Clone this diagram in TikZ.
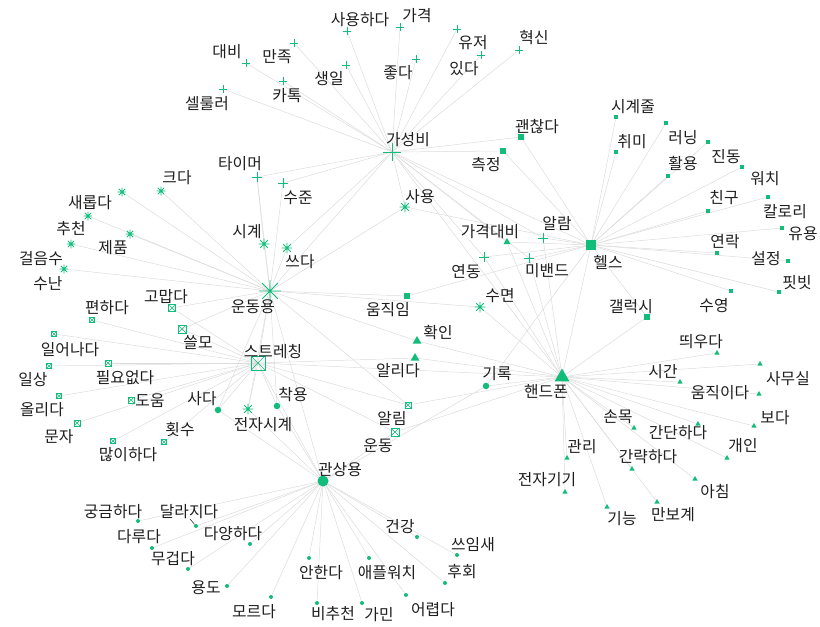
\documentclass[tikz,border=0pt]{standalone}
\usepackage{fontspec}
\setmainfont{Noto Sans CJK KR}
\usetikzlibrary{shapes.geometric}
\pgfdeclarelayer{background}
\pgfsetlayers{background,main}
\definecolor{mkc}{RGB}{18,188,122}
\definecolor{edgec}{RGB}{220,220,220}
\definecolor{txtc}{RGB}{30,30,30}
\tikzset{
  mkplus/.style={rectangle, inner sep=0pt, minimum size=#1},
  mkline/.style={draw=mkc, line width=1pt},
  mkast/.style={circle, inner sep=0pt, minimum size=#1,
    path picture={\draw[draw=mkc, line width=0.75pt]
      (path picture bounding box.north)--(path picture bounding box.south)
      (path picture bounding box.west)--(path picture bounding box.east)
      (path picture bounding box.north east)--(path picture bounding box.south west)
      (path picture bounding box.north west)--(path picture bounding box.south east);}},
  mkbox/.style={rectangle, inner sep=0pt, minimum size=#1, draw=mkc, line width=0.6pt,
    path picture={\draw[draw=mkc, line width=0.5pt]
      (path picture bounding box.north east)--(path picture bounding box.south west)
      (path picture bounding box.north west)--(path picture bounding box.south east);}},
  mksq/.style={rectangle, inner sep=0pt, minimum size=#1, fill=mkc},
  mktri/.style={regular polygon, regular polygon sides=3, inner sep=0pt, minimum size=#1, fill=mkc},
  mkcirc/.style={circle, inner sep=0pt, minimum size=#1, fill=mkc},
  lbl/.style={text=txtc, inner sep=0pt, font=\fontsize{15.8}{18}\selectfont},
  edge/.style={draw=edgec, line width=0.5pt},
}
\begin{document}
\begin{tikzpicture}[x=1pt, y=-1pt]
\useasboundingbox (0,0) rectangle (820,627);
% ---------- group G (plus)
\node[mkplus=18] (g0) at (392,152) {};
\node[mkplus=8] (g1) at (347,31) {};
\node[mkplus=8] (g2) at (400,27) {};
\node[mkplus=8] (g3) at (457,29) {};
\node[mkplus=8] (g4) at (519,50) {};
\node[mkplus=8] (g5) at (246,63) {};
\node[mkplus=8] (g6) at (294,43) {};
\node[mkplus=8] (g7) at (346,65) {};
\node[mkplus=8] (g8) at (416,59) {};
\node[mkplus=8] (g9) at (481,55) {};
\node[mkplus=8] (g10) at (283,81) {};
\node[mkplus=8] (g11) at (223,89) {};
\node[mkplus=10] (g12) at (257,177) {};
\node[mkplus=10] (g13) at (283,183) {};
\node[mkplus=10] (g14) at (543,238) {};
\node[mkplus=10] (g15) at (484,257) {};
\node[mkplus=10] (g16) at (529,258) {};
\foreach \n in {g0,g1,g2,g3,g4,g5,g6,g7,g8,g9,g10,g11,g12,g13,g14,g15,g16}
  \draw[mkline] (\n.north) -- (\n.south) (\n.west) -- (\n.east);
% ---------- group U (asterisk)
\node[mkast=22] (u0) at (270,291) {};
\node[mkast=9] (u1) at (161,191) {};
\node[mkast=9] (u2) at (122,192) {};
\node[mkast=9] (u3) at (88,216) {};
\node[mkast=9] (u4) at (130,234) {};
\node[mkast=9] (u5) at (71,244) {};
\node[mkast=9] (u6) at (64,269) {};
\node[mkast=11] (u7) at (264,244) {};
\node[mkast=11] (u8) at (287,248) {};
\node[mkast=11] (u9) at (405,207) {};
\node[mkast=11] (u10) at (480,307) {};
\node[mkast=11] (u11) at (248,409) {};
% ---------- group S (boxed x)
\node[mkbox=14] (s0) at (258,363) {};
\node[mkbox=5] (s1) at (92,320) {};
\node[mkbox=5] (s2) at (54,334) {};
\node[mkbox=5] (s3) at (49,366) {};
\node[mkbox=6] (s4) at (108,363) {};
\node[mkbox=5] (s5) at (59,396) {};
\node[mkbox=6] (s6) at (131,400) {};
\node[mkbox=6] (s7) at (77,423) {};
\node[mkbox=5] (s8) at (113,441) {};
\node[mkbox=5] (s9) at (164,442) {};
\node[mkbox=7] (s10) at (172,308) {};
\node[mkbox=8] (s11) at (182,329) {};
\node[mkbox=6] (s12) at (408,405) {};
\node[mkbox=8] (s13) at (395,432) {};
% ---------- group H (square)
\node[mksq=10] (h0) at (591,245) {};
\node[mksq=3.5] (h1) at (616,117) {};
\node[mksq=3.5] (h2) at (616,152) {};
\node[mksq=3.5] (h3) at (666,123) {};
\node[mksq=3.5] (h4) at (668,176) {};
\node[mksq=3.5] (h5) at (708,142) {};
\node[mksq=3.5] (h6) at (742,167) {};
\node[mksq=3.5] (h7) at (708,211) {};
\node[mksq=3.5] (h8) at (768,197) {};
\node[mksq=3.5] (h9) at (782,228) {};
\node[mksq=3.5] (h10) at (717,253) {};
\node[mksq=3.5] (h11) at (788,261) {};
\node[mksq=3.5] (h12) at (779,292) {};
\node[mksq=3.5] (h13) at (731,291) {};
\node[mksq=6.5] (h14) at (647,317) {};
\node[mksq=6] (h15) at (521,137) {};
\node[mksq=6] (h16) at (503,151) {};
\node[mksq=6] (h17) at (407,296) {};
% ---------- group P (triangle)
\node[mktri=17] (p0) at (562,377) {};
\node[mktri=6] (p1) at (717,353) {};
\node[mktri=6] (p2) at (760,364) {};
\node[mktri=6] (p3) at (680,382) {};
\node[mktri=6] (p4) at (759,394) {};
\node[mktri=6] (p5) at (754,426) {};
\node[mktri=6] (p6) at (698,424) {};
\node[mktri=6] (p7) at (634,428) {};
\node[mktri=6] (p8) at (727,458) {};
\node[mktri=6] (p9) at (567,458) {};
\node[mktri=6] (p10) at (632,469) {};
\node[mktri=6] (p11) at (695,479) {};
\node[mktri=6] (p12) at (565,492) {};
\node[mktri=6] (p13) at (607,507) {};
\node[mktri=6] (p14) at (657,502) {};
\node[mktri=8] (p15) at (507,242) {};
\node[mktri=10] (p16) at (417,341) {};
\node[mktri=10] (p17) at (415,358) {};
% ---------- group K (circle)
\node[mkcirc=11] (k0) at (323,481) {};
\node[mkcirc=4] (k1) at (138,521) {};
\node[mkcirc=4] (k2) at (196,526) {};
\node[mkcirc=4] (k3) at (250,544) {};
\node[mkcirc=4] (k4) at (152,548) {};
\node[mkcirc=4] (k5) at (188,569) {};
\node[mkcirc=4] (k6) at (227,586) {};
\node[mkcirc=4] (k7) at (271,597) {};
\node[mkcirc=4] (k8) at (309,558) {};
\node[mkcirc=4] (k9) at (317,603) {};
\node[mkcirc=4] (k10) at (369,558) {};
\node[mkcirc=4] (k11) at (362,603) {};
\node[mkcirc=4] (k12) at (406,595) {};
\node[mkcirc=4] (k13) at (417,537) {};
\node[mkcirc=4] (k14) at (457,555) {};
\node[mkcirc=4] (k15) at (445,583) {};
\node[mkcirc=6.5] (k16) at (218,410) {};
\node[mkcirc=6.5] (k17) at (277,406) {};
\node[mkcirc=6.5] (k18) at (486,386) {};
% ---------- labels
\node[lbl] (lg0) at (408,140) {가성비};
\node[lbl] (lg1) at (360,20) {사용하다};
\node[lbl] (lg2) at (417,16) {가격};
\node[lbl] (lg3) at (473,43) {유저};
\node[lbl] (lg4) at (534,38) {혁신};
\node[lbl] (lg5) at (227,52) {대비};
\node[lbl] (lg6) at (277,57) {만족};
\node[lbl] (lg7) at (329,79) {생일};
\node[lbl] (lg8) at (398,73) {좋다};
\node[lbl] (lg9) at (464,69) {있다};
\node[lbl] (lg10) at (287,96) {카톡};
\node[lbl] (lg11) at (207,104) {셀룰러};
\node[lbl] (lg12) at (240,164) {타이머};
\node[lbl] (lg13) at (298,198) {수준};
\node[lbl] (lg14) at (557,223) {알람};
\node[lbl] (lg15) at (466,272) {연동};
\node[lbl] (lg16) at (547,271) {미밴드};
\node[lbl] (lu0) at (253,307) {운동용};
\node[lbl] (lu1) at (177,178) {크다};
\node[lbl] (lu2) at (90,203) {새롭다};
\node[lbl] (lu3) at (71,229) {추천};
\node[lbl] (lu4) at (113,248) {제품};
\node[lbl] (lu5) at (41,259) {걸음수};
\node[lbl] (lu6) at (48,284) {수난};
\node[lbl] (lu7) at (247,232) {시계};
\node[lbl] (lu8) at (300,262) {쓰다};
\node[lbl] (lu9) at (420,197) {사용};
\node[lbl] (lu10) at (500,296) {수면};
\node[lbl] (lu11) at (263,425) {전자시계};
\node[lbl] (ls0) at (273,352) {스트레칭};
\node[lbl] (ls1) at (107,308) {편하다};
\node[lbl] (ls2) at (70,350) {일어나다};
\node[lbl] (ls3) at (33,380) {일상};
\node[lbl] (ls4) at (125,378) {필요없다};
\node[lbl] (ls5) at (42,410) {올리다};
\node[lbl] (ls6) at (150,401) {도움};
\node[lbl] (ls7) at (59,437) {문자};
\node[lbl] (ls8) at (128,455) {많이하다};
\node[lbl] (ls9) at (180,430) {횟수};
\node[lbl] (ls10) at (166,297) {고맙다};
\node[lbl] (ls11) at (198,343) {쓸모};
\node[lbl] (ls12) at (392,418) {알림};
\node[lbl] (ls13) at (378,446) {운동};
\node[lbl] (lh0) at (608,262) {헬스};
\node[lbl] (lh1) at (633,107) {시계줄};
\node[lbl] (lh2) at (632,142) {취미};
\node[lbl] (lh3) at (683,138) {러닝};
\node[lbl] (lh4) at (683,164) {활용};
\node[lbl] (lh5) at (726,157) {진동};
\node[lbl] (lh6) at (765,179) {워치};
\node[lbl] (lh7) at (724,198) {친구};
\node[lbl] (lh8) at (785,212) {칼로리};
\node[lbl] (lh9) at (803,234) {유용};
\node[lbl] (lh10) at (725,242) {연락};
\node[lbl] (lh11) at (766,259) {설정};
\node[lbl] (lh12) at (797,283) {핏빗};
\node[lbl] (lh13) at (714,306) {수영};
\node[lbl] (lh14) at (631,307) {갤럭시};
\node[lbl] (lh15) at (537,127) {괜찮다};
\node[lbl] (lh16) at (486,165) {측정};
\node[lbl] (lh17) at (388,310) {움직임};
\node[lbl] (lp0) at (546,391) {핸드폰};
\node[lbl] (lp1) at (701,342) {띄우다};
\node[lbl] (lp2) at (788,379) {사무실};
\node[lbl] (lp3) at (663,372) {시간};
\node[lbl] (lp4) at (720,393) {움직이다};
\node[lbl] (lp5) at (775,418) {보다};
\node[lbl] (lp6) at (678,433) {간단하다};
\node[lbl] (lp7) at (618,417) {손목};
\node[lbl] (lp8) at (743,446) {개인};
\node[lbl] (lp9) at (582,447) {관리};
\node[lbl] (lp10) at (648,457) {간략하다};
\node[lbl] (lp11) at (715,492) {아침};
\node[lbl] (lp12) at (547,480) {전자기기};
\node[lbl] (lp13) at (622,519) {기능};
\node[lbl] (lp14) at (673,515) {만보계};
\node[lbl] (lp15) at (490,232) {가격대비};
\node[lbl] (lp16) at (438,333) {확인};
\node[lbl] (lp17) at (398,371) {알리다};
\node[lbl] (lk0) at (340,470) {관상용};
\node[lbl] (lk1) at (113,512) {궁금하다};
\node[lbl] (lk2) at (189,512) {달라지다};
\node[lbl] (lk3) at (233,534) {다양하다};
\node[lbl] (lk4) at (139,537) {다루다};
\node[lbl] (lk5) at (173,559) {무겁다};
\node[lbl] (lk6) at (206,588) {용도};
\node[lbl] (lk7) at (254,612) {모르다};
\node[lbl] (lk8) at (321,573) {안한다};
\node[lbl] (lk9) at (333,614) {비추천};
\node[lbl] (lk10) at (387,573) {애플워치};
\node[lbl] (lk11) at (379,615) {가민};
\node[lbl] (lk12) at (433,610) {어렵다};
\node[lbl] (lk13) at (400,527) {건강};
\node[lbl] (lk14) at (473,545) {쓰임새};
\node[lbl] (lk15) at (462,572) {후회};
\node[lbl] (lk16) at (202,399) {사다};
\node[lbl] (lk17) at (293,395) {착용};
\node[lbl] (lk18) at (497,374) {기록};
\coordinate (lead2) at (190,519);
\draw[txtc, line width=0.5pt] (lead2) -- (k2);
% ---------- edges
\begin{pgfonlayer}{background}
\foreach \t in {g1,g2,g3,g4,g5,g6,g7,g8,g9,g10,g11,g12,g13,g14,g15,g16,h0,h15,h16,u0,u8,u9,p15,p0}
  \draw[edge] (g0.center) -- (\t.center);
\foreach \t in {u1,u2,u3,u4,u5,u6,u7,u8,u9,u10,u11,g12,g13,s0,s10,s11,h17,k16,k17,k0,s12,p16}
  \draw[edge] (u0.center) -- (\t.center);
\foreach \t in {s1,s2,s3,s4,s5,s6,s7,s8,s9,s10,s11,s12,s13,k16,u11,k17,k0,p0,p17}
  \draw[edge] (s0.center) -- (\t.center);
\foreach \t in {h1,h2,h3,h4,h5,h6,h7,h8,h9,h10,h11,h12,h13,h14,h15,h16,h17,g14,g16,g15,p15,p0,k18,u9}
  \draw[edge] (h0.center) -- (\t.center);
\foreach \t in {p1,p2,p3,p4,p5,p6,p7,p8,p9,p10,p11,p12,p13,p14,p15,p16,p17,h14,g16,g14,g15,u10,k18,s12,s13}
  \draw[edge] (p0.center) -- (\t.center);
\foreach \t in {k1,k2,k3,k4,k5,k6,k7,k8,k9,k10,k11,k12,k13,k14,k15,k16,k17,u11,s13,k18}
  \draw[edge] (k0.center) -- (\t.center);
\draw[edge] (g12.center) -- (u7.center);
\end{pgfonlayer}
\end{tikzpicture}
\end{document}
